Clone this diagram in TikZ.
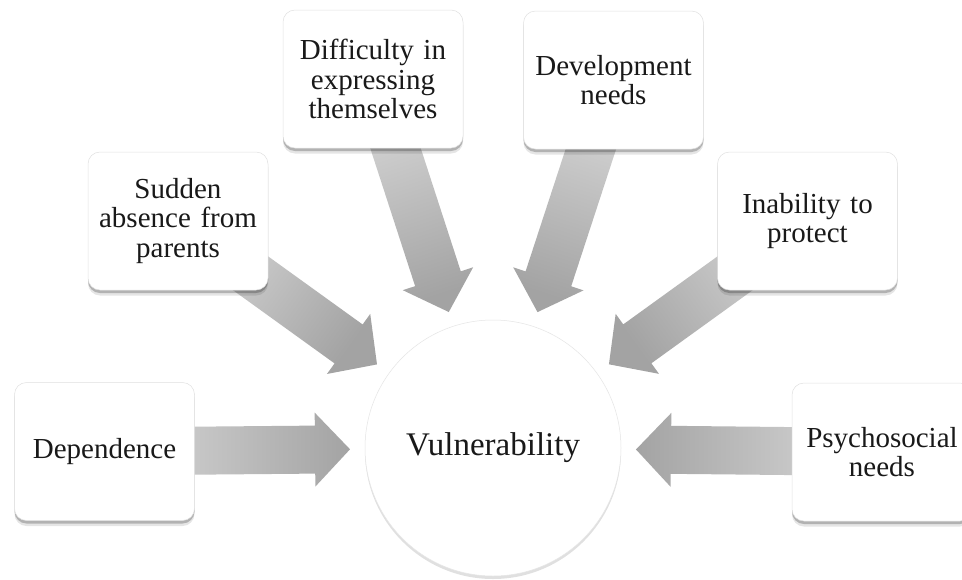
\documentclass[tikz,border=0pt]{standalone}
\usepackage{fontspec}
\setmainfont{Liberation Serif}
\usetikzlibrary{calc,shadows,backgrounds}
\tikzset{
  boxshadow/.style={
    drop shadow={shadow xshift=0pt, shadow yshift=-3pt, opacity=0.22, fill=black},
    drop shadow={shadow xshift=0pt, shadow yshift=-5.5pt, opacity=0.10, fill=black}},
  factor/.style={rectangle, rounded corners=12pt, fill=white, draw=black!12,
    line width=0.5pt, minimum width=180pt, minimum height=138pt,
    text width=174pt, align=center, inner sep=0pt,
    font=\fontsize{29}{29.5}\selectfont, text=black!90, boxshadow},
  hub/.style={circle, fill=white, draw=black!10, line width=0.5pt,
    minimum size=256pt, inner sep=0pt, font=\fontsize{33}{36}\selectfont,
    text=black!90,
    drop shadow={shadow xshift=0pt, shadow yshift=-3pt, opacity=0.12, fill=black}},
  arrowshade/.style={top color=black!14, bottom color=black!36, draw=none}
}
% radial block arrow from box #1 towards the hub, shading angle #2
\newcommand{\radarrow}[2]{%
  \coordinate (tip#1) at ($(hub.center)!143pt!(#1.center)$);
  \coordinate (hb#1) at ($(tip#1)!35pt!(#1.center)$);
  \shade[arrowshade, shading angle=#2]
    ($(#1.center)!24pt!90:(tip#1)$) --
    ($(hb#1)!24pt!90:(tip#1)$) --
    ($(hb#1)!37pt!90:(tip#1)$) --
    (tip#1) --
    ($(hb#1)!37pt!-90:(tip#1)$) --
    ($(hb#1)!24pt!-90:(tip#1)$) --
    ($(#1.center)!24pt!-90:(tip#1)$) -- cycle;
}
\begin{document}
\begin{tikzpicture}[x=1pt,y=-1pt]
\useasboundingbox (0,0) rectangle (962,579);

\node[hub] (hub) at (493,448) {Vulnerability};

\node[factor] (dep) at (104.5,451.5) {Dependence};
\node[factor] (sud) at (178,221) {Sudden\\absence from\\parents};
\node[factor] (dif) at (373,79) {Difficulty in\\expressing\\themselves};
\node[factor] (dev) at (613.5,80) {Development\\needs};
\node[factor] (ina) at (807.5,221) {Inability to\\protect};
\node[factor] (psy) at (882,452) {Psychosocial\\needs};

\begin{pgfonlayer}{background}
  \fill[white] (0,0) rectangle (962,579);
  \radarrow{dep}{90}
  \radarrow{sud}{54.3}
  \radarrow{dif}{18}
  \radarrow{dev}{-18}
  \radarrow{ina}{-54.2}
  \radarrow{psy}{270}
\end{pgfonlayer}
\end{tikzpicture}
\end{document}
